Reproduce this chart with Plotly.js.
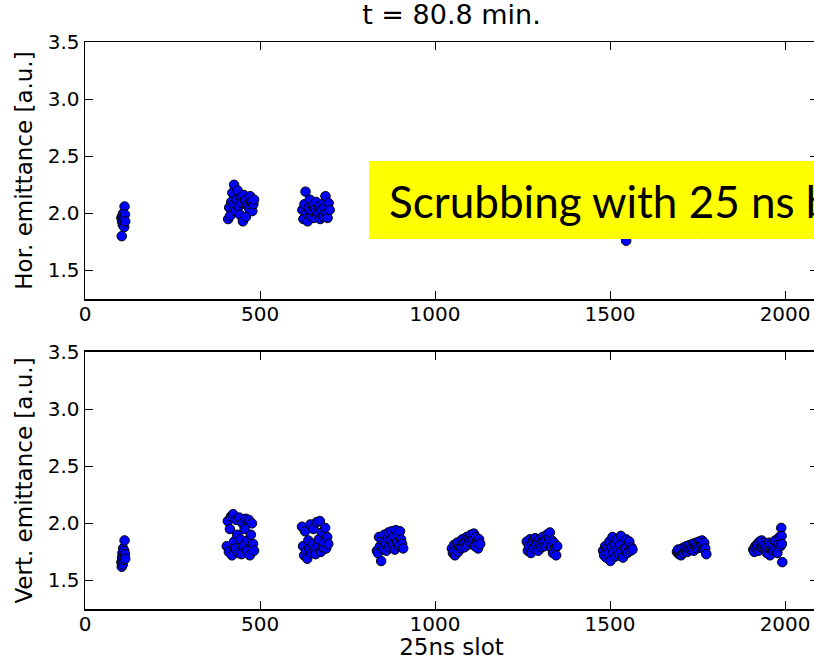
<!DOCTYPE html>
<html>
<head>
<meta charset="utf-8">
<script src="https://cdn.plot.ly/plotly-3.0.1.min.js"></script>
<style>html,body{margin:0;padding:0;overflow:hidden;background:#fff;}#chart{width:818px;height:660px;}</style>
</head>
<body>
<div id="chart"></div>
<script>
// ---- Data ----
const chartTitle = "t = 80.8 min.";
const xLabel = "25ns slot";
const horLabel = "Hor. emittance [a.u.]";
const vertLabel = "Vert. emittance [a.u.]";
const boxText = "Scrubbing with 25 ns beams";
const xTickVals = [0, 500, 1000, 1500, 2000];
const yTickVals = [1.5, 2.0, 2.5, 3.0, 3.5];

// Horizontal emittance (top panel)
const horSlot = [
  104,105,106,107,108,109,110,111,112,113,114,115,
  409,412,415,418,421,424,426,430,433,436,439,442,445,448,451,454,457,460,463,466,469,472,475,478,481,483,
  621,624,627,630,633,636,639,642,645,648,651,654,657,660,663,666,669,672,675,678,681,684,687,690,693,696,699,
  836,842,848,854,860,866,872,878,884,890,896,902,908,
  1050,1056,1062,1068,1074,1080,1086,1092,1098,1104,1110,1116,1122,1128,
  1264,1270,1276,1282,1288,1294,1300,1306,1312,1318,1324,1330,1336,1342,1348,
  1482,1488,1494,1500,1506,1512,1518,1524,1530,1536,1542,1546,1552,1558,
  1692,1698,1704,1710,1716,1722,1728,1734,1740,1746,1752,1758,1766,1772,
  1910,1916,1922,1928,1934,1940,1946,1952,1958,1964,1970,1976,1982,1988
];
const horEmit = [
  1.96,1.80,1.93,1.98,1.90,2.00,1.95,1.97,1.88,2.06,1.99,1.93,
  1.95,2.05,1.98,2.10,2.18,2.08,2.25,2.02,2.12,2.20,2.06,1.99,2.14,2.09,1.93,2.16,2.11,1.97,2.07,2.13,2.04,2.15,2.10,2.02,2.08,2.12,
  2.03,1.95,2.08,2.19,2.00,1.93,2.05,2.12,1.98,2.02,2.07,1.96,2.04,2.10,1.99,2.01,2.06,1.95,2.03,2.08,1.97,2.05,2.15,2.00,1.96,2.09,2.03,
  1.95,2.02,1.98,2.06,2.00,2.10,1.97,2.04,2.08,1.99,2.03,2.12,2.01,
  2.00,2.05,1.96,2.08,2.02,1.99,2.10,2.04,1.97,2.06,2.01,2.09,2.03,1.98,
  2.02,1.97,2.06,2.00,2.09,1.95,2.04,2.07,1.99,2.03,2.11,2.00,1.96,2.05,2.02,
  1.98,2.03,1.95,2.07,2.00,1.93,2.04,2.01,1.97,2.06,2.02,1.76,1.99,2.05,
  1.97,2.01,1.94,2.04,1.99,2.06,1.96,2.02,2.00,1.95,2.05,1.98,1.82,2.01,
  1.98,2.02,1.95,2.06,2.00,1.97,2.04,2.08,1.99,1.94,2.03,2.10,1.96,2.01
];

// Vertical emittance (bottom panel)
const vertSlot = [
  104,105,106,107,108,109,110,111,112,113,114,115,
  405,408,411,414,417,420,423,426,429,432,435,438,441,444,447,450,453,456,459,462,465,468,471,474,477,480,483,
  620,623,626,629,632,635,638,641,644,647,650,653,656,659,662,665,668,671,674,677,680,683,686,689,692,695,
  834,837,840,843,846,849,852,855,858,861,864,867,870,873,876,879,882,885,888,891,894,897,900,903,906,909,
  1048,1051,1054,1057,1060,1063,1066,1069,1072,1075,1078,1081,1084,1087,1090,1093,1096,1099,1102,1105,1108,1111,1114,1117,1120,1123,1126,1129,
  1262,1265,1268,1271,1274,1277,1280,1283,1286,1289,1292,1295,1298,1301,1304,1307,1310,1313,1316,1319,1322,1325,1328,1331,1334,1337,1340,1343,1346,1349,
  1480,1483,1486,1489,1492,1495,1498,1501,1504,1507,1510,1513,1516,1519,1522,1525,1528,1531,1534,1537,1540,1543,1546,1549,1552,1555,1558,1561,1564,
  1691,1694,1697,1700,1703,1706,1709,1712,1715,1718,1721,1724,1727,1730,1733,1736,1739,1742,1745,1748,1751,1754,1757,1760,1763,1766,1769,1772,1775,
  1909,1912,1915,1918,1921,1924,1927,1930,1933,1936,1939,1942,1945,1948,1951,1954,1957,1960,1963,1966,1969,1972,1975,1978,1981,1984,1987,1989,1990,1991,1992
];
const vertEmit = [
  1.66,1.62,1.70,1.74,1.64,1.78,1.72,1.68,1.76,1.85,1.73,1.69,
  1.80,2.02,1.75,1.95,2.06,1.72,2.08,1.84,1.78,2.03,1.90,1.74,2.05,1.86,1.73,2.00,1.80,1.95,2.04,1.76,1.85,2.03,1.72,1.90,2.00,1.82,1.76,
  1.97,1.80,1.72,1.93,1.76,1.69,1.85,1.78,1.99,1.74,1.82,1.95,1.77,1.73,2.01,1.80,1.86,2.02,1.75,1.92,1.79,1.83,1.96,1.78,1.88,1.82,
  1.76,1.74,1.88,1.80,1.67,1.85,1.78,1.90,1.83,1.76,1.87,1.92,1.79,1.85,1.93,1.81,1.89,1.77,1.94,1.84,1.90,1.80,1.93,1.86,1.82,1.78,
  1.78,1.74,1.81,1.72,1.77,1.83,1.75,1.80,1.84,1.78,1.86,1.82,1.79,1.85,1.88,1.81,1.87,1.84,1.90,1.83,1.86,1.91,1.80,1.88,1.84,1.78,1.86,1.82,
  1.84,1.76,1.80,1.86,1.74,1.82,1.85,1.78,1.87,1.80,1.84,1.76,1.86,1.82,1.79,1.88,1.84,1.80,1.86,1.90,1.82,1.87,1.92,1.79,1.85,1.74,1.83,1.78,1.72,1.80,
  1.76,1.72,1.80,1.70,1.78,1.74,1.84,1.67,1.79,1.88,1.75,1.82,1.71,1.86,1.77,1.73,1.81,1.89,1.76,1.70,1.83,1.78,1.86,1.74,1.80,1.84,1.76,1.79,1.77,
  1.75,1.77,1.73,1.76,1.72,1.78,1.74,1.79,1.76,1.80,1.75,1.78,1.81,1.77,1.79,1.82,1.76,1.80,1.83,1.78,1.81,1.84,1.79,1.82,1.85,1.78,1.83,1.78,1.73,
  1.77,1.75,1.80,1.78,1.82,1.76,1.84,1.79,1.85,1.80,1.83,1.77,1.81,1.74,1.79,1.83,1.72,1.78,1.82,1.76,1.80,1.85,1.78,1.74,1.82,1.88,1.80,1.96,1.89,1.82,1.66
];

// ---- Plot ----
const marker = {color: '#0000ff', size: 9.5, line: {color: '#000000', width: 1}};
const tickFont = {family: 'DejaVu Sans', size: 20, color: '#000'};
const labelFont = {family: 'DejaVu Sans', size: 23, color: '#000'};

const traces = [
  {x: horSlot, y: horEmit, xaxis: 'x', yaxis: 'y', type: 'scatter', mode: 'markers', marker: marker, cliponaxis: true, hoverinfo: 'skip'},
  {x: vertSlot, y: vertEmit, xaxis: 'x2', yaxis: 'y2', type: 'scatter', mode: 'markers', marker: marker, cliponaxis: true, hoverinfo: 'skip'}
];

function xAxis(anchor, title) {
  const a = {
    anchor: anchor, range: [0, 2094], tickvals: xTickVals, ticktext: xTickVals.map(String),
    ticks: 'inside', ticklen: 8, tickwidth: 1, tickcolor: '#000', mirror: 'allticks',
    showline: true, linecolor: '#000', linewidth: 1.5, showgrid: false, zeroline: false,
    tickfont: tickFont, automargin: false, ticklabelstandoff: -4
  };
  if (title) a.title = {text: title, font: labelFont, standoff: 2};
  return a;
}
function yAxis(anchor, domain, title) {
  return {
    anchor: anchor, domain: domain, range: [1.25, 3.5], tickvals: yTickVals, ticktext: yTickVals.map(v => v.toFixed(1)),
    ticks: 'inside', ticklen: 8, tickwidth: 1, tickcolor: '#000', mirror: 'allticks',
    showline: true, linecolor: '#000', linewidth: 1.5, showgrid: false, zeroline: false,
    tickfont: tickFont, automargin: false,
    title: {text: title, font: labelFont, standoff: 8}
  };
}

const layout = {
  width: 818, height: 660,
  margin: {l: 85, r: 0, t: 42, b: 51},
  paper_bgcolor: '#fff', plot_bgcolor: '#fff',
  showlegend: false,
  title: {text: chartTitle, font: {family: 'DejaVu Sans', size: 27, color: '#000'}, x: 0.5, xref: 'paper', xanchor: 'center', y: 1, yref: 'container', yanchor: 'top', pad: {t: 5}},
  xaxis: xAxis('y', null),
  yaxis: yAxis('x', [0.5467, 1], horLabel),
  xaxis2: xAxis('y2', xLabel),
  yaxis2: yAxis('x2', [0, 0.4533], vertLabel),
  shapes: [
    {type: 'rect', xref: 'paper', yref: 'paper', x0: 0.3875, x1: 1.05, y0: 0.6526, y1: 0.790,
     fillcolor: '#ffff00', line: {width: 0}, layer: 'above'}
  ],
  annotations: [
    {xref: 'paper', yref: 'paper', x: 0.4114, y: 0.7195, xanchor: 'left', yanchor: 'middle',
     text: boxText, showarrow: false, font: {family: 'Lato', size: 44, color: '#000'}}
  ]
};

Plotly.newPlot('chart', traces, layout, {displayModeBar: false, staticPlot: true});
</script>
</body>
</html>
